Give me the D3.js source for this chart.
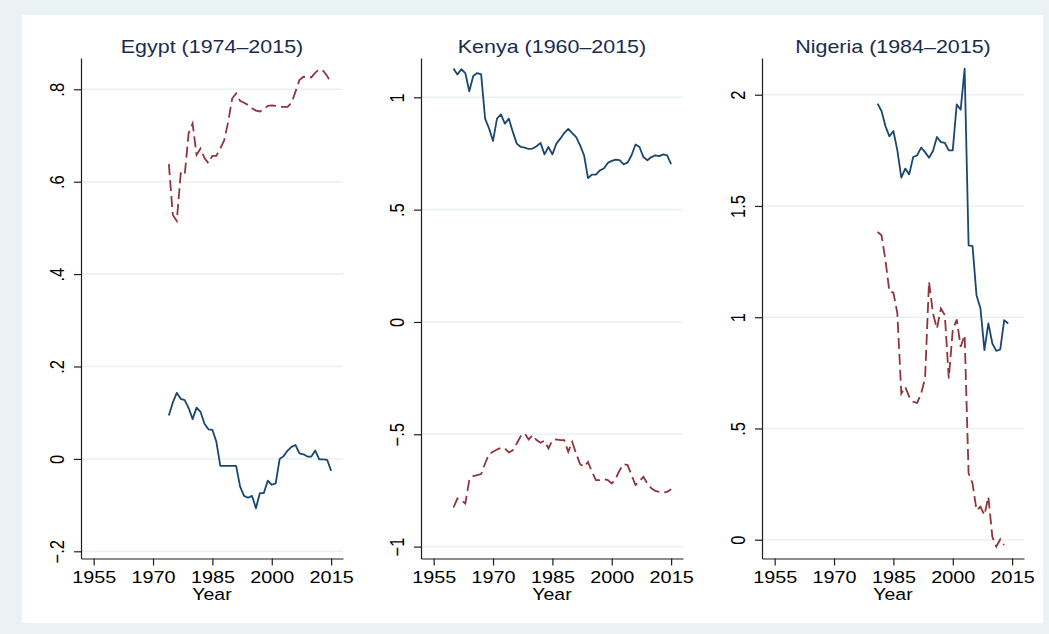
<!DOCTYPE html>
<html>
<head>
<meta charset="utf-8">
<script src="https://cdn.jsdelivr.net/npm/d3@7"></script>
<style>
  body { margin: 0; background: #fff; }
  svg { display: block; font-family: "Liberation Sans", Arial, sans-serif; }
</style>
</head>
<body>
<svg width="1049" height="634"></svg>
<script>
(function (d3) {
  'use strict';

  // ---- data ----
  var titles = ['Egypt (1974\u20132015)', 'Kenya (1960\u20132015)', 'Nigeria (1984\u20132015)'];
  var xTicks = [1955, 1970, 1985, 2000, 2015];

  var egyptStart = 1974;
  var egyptSolid = [0.094, 0.122, 0.143, 0.130, 0.127, 0.110, 0.086, 0.111, 0.102, 0.076,
    0.064, 0.063, 0.037, -0.015, -0.015, -0.015, -0.015, -0.015, -0.060, -0.080,
    -0.084, -0.080, -0.107, -0.074, -0.074, -0.047, -0.056, -0.053, 0.000, 0.006,
    0.018, 0.026, 0.030, 0.012, 0.010, 0.005, 0.005, 0.018, -0.001, -0.001,
    -0.002, -0.026];
  var egyptDashed = [0.638, 0.528, 0.515, 0.618, 0.614, 0.705, 0.726, 0.658, 0.672, 0.651,
    0.640, 0.656, 0.656, 0.672, 0.690, 0.730, 0.780, 0.791, 0.775, 0.771,
    0.766, 0.759, 0.754, 0.752, 0.757, 0.764, 0.765, 0.764, 0.762, 0.762,
    0.762, 0.771, 0.795, 0.820, 0.827, 0.826, 0.826, 0.836, 0.843, 0.840,
    0.829, 0.813];
  var egyptTicks = [-0.2, 0, 0.2, 0.4, 0.6, 0.8];
  var egyptLabels = ['\u2212.2', '0', '.2', '.4', '.6', '.8'];

  var kenyaStart = 1960;
  var kenyaSolid = [1.128, 1.102, 1.125, 1.108, 1.027, 1.095, 1.108, 1.102, 0.905, 0.861,
    0.806, 0.905, 0.924, 0.883, 0.905, 0.846, 0.794, 0.779, 0.776, 0.770,
    0.772, 0.782, 0.797, 0.746, 0.779, 0.746, 0.794, 0.816, 0.841, 0.859,
    0.841, 0.823, 0.786, 0.742, 0.640, 0.656, 0.656, 0.675, 0.683, 0.708,
    0.717, 0.723, 0.720, 0.702, 0.709, 0.742, 0.790, 0.779, 0.734, 0.720,
    0.734, 0.742, 0.738, 0.746, 0.742, 0.702];
  var kenyaDashed = [-0.826, -0.786, -0.793, -0.808, -0.704, -0.686, -0.682, -0.677, -0.630, -0.588,
    -0.578, -0.568, -0.560, -0.563, -0.581, -0.571, -0.541, -0.508, -0.496, -0.523,
    -0.504, -0.526, -0.538, -0.529, -0.563, -0.526, -0.523, -0.526, -0.526, -0.578,
    -0.534, -0.586, -0.633, -0.645, -0.623, -0.667, -0.704, -0.704, -0.700, -0.704,
    -0.719, -0.697, -0.660, -0.633, -0.637, -0.682, -0.726, -0.709, -0.689, -0.719,
    -0.741, -0.752, -0.756, -0.759, -0.756, -0.745];
  var kenyaTicks = [-1, -0.5, 0, 0.5, 1];
  var kenyaLabels = ['\u22121', '\u2212.5', '0', '.5', '1'];

  var nigeriaStart = 1981;
  var nigeriaSolid = [1.960, 1.927, 1.858, 1.813, 1.837, 1.750, 1.627, 1.668, 1.642, 1.720,
    1.727, 1.762, 1.742, 1.717, 1.747, 1.810, 1.787, 1.783, 1.750, 1.750,
    1.956, 1.933, 2.117, 1.323, 1.319, 1.099, 1.039, 0.852, 0.972, 0.882,
    0.849, 0.855, 0.987, 0.972];
  var nigeriaDashed = [1.383, 1.368, 1.256, 1.114, 1.111, 1.017, 0.657, 0.687, 0.642, 0.620,
    0.615, 0.657, 0.725, 1.160, 1.017, 0.949, 1.039, 1.009, 0.725, 0.942,
    0.990, 0.867, 0.919, 0.298, 0.253, 0.133, 0.148, 0.111, 0.193, 0.013,
    -0.031, 0.002, -0.024];
  var nigeriaTicks = [0, 0.5, 1, 1.5, 2];
  var nigeriaLabels = ['0', '.5', '1', '1.5', '2'];

  var panels = [
    { title: titles[0], start: egyptStart, solid: egyptSolid, dashed: egyptDashed,
      yDomain: [-0.2156, 0.8677], ticks: egyptTicks, labels: egyptLabels, left: 81 },
    { title: titles[1], start: kenyaStart, solid: kenyaSolid, dashed: kenyaDashed,
      yDomain: [-1.053, 1.175], ticks: kenyaTicks, labels: kenyaLabels, left: 421 },
    { title: titles[2], start: nigeriaStart, solid: nigeriaSolid, dashed: nigeriaDashed,
      yDomain: [-0.0844, 2.165], ticks: nigeriaTicks, labels: nigeriaLabels, left: 762 }
  ];

  // ---- layout ----
  var svg = d3.select('svg');
  var plotW = 262;
  var top = 58;
  var bottom = 558.5;
  var navy = '#1a476f';
  var maroon = '#90353b';
  var axisColor = '#1e1e1e';
  var stretch = 1.2;

  svg.append('rect').attr('x', 0).attr('y', 0).attr('width', 1049).attr('height', 634).attr('fill', '#eaf2f3');
  svg.append('rect').attr('x', 22).attr('y', 15).attr('width', 1021).attr('height', 608).attr('fill', '#fff');

  panels.forEach(function (p) {
    var x = d3.scaleLinear().domain([1951.8, 2018]).range([p.left, p.left + plotW]);
    var y = d3.scaleLinear().domain(p.yDomain).range([bottom, top]);
    var g = svg.append('g');

    // grid
    g.append('g').selectAll('line')
      .data(p.ticks)
      .enter()
      .append('line')
      .attr('x1', p.left)
      .attr('x2', p.left + plotW)
      .attr('y1', function (d) { return y(d); })
      .attr('y2', function (d) { return y(d); })
      .attr('stroke', '#eaf2f3')
      .attr('stroke-width', 1.6);

    // lines
    var line = d3.line()
      .x(function (d, i) { return x(p.start + i); })
      .y(function (d) { return y(d); });

    g.append('path')
      .attr('d', line(p.solid))
      .attr('fill', 'none')
      .attr('stroke', navy)
      .attr('stroke-width', 1.8)
      .attr('stroke-linejoin', 'round');

    g.append('path')
      .attr('d', line(p.dashed))
      .attr('fill', 'none')
      .attr('stroke', maroon)
      .attr('stroke-width', 1.8)
      .attr('stroke-dasharray', '11,5');

    // x axis
    var xAxis = g.append('g')
      .attr('transform', 'translate(0,' + bottom + ')')
      .call(d3.axisBottom(x).tickValues(xTicks).tickSize(7).tickSizeOuter(0).tickFormat(d3.format('d')));
    xAxis.select('.domain').attr('stroke', axisColor).attr('stroke-width', 1.2);
    xAxis.selectAll('.tick line').attr('stroke', axisColor).attr('stroke-width', 1.2);
    xAxis.selectAll('.tick text')
      .attr('y', 24.5)
      .attr('dy', null)
      .attr('fill', '#000')
      .attr('font-size', 16.5)
      .attr('font-family', '"Liberation Sans", Arial, sans-serif')
      .attr('transform', 'scale(' + stretch + ',1)');

    // y axis
    var yAxis = g.append('g')
      .attr('transform', 'translate(' + p.left + ',0)')
      .call(d3.axisLeft(y).tickValues(p.ticks).tickSize(7).tickSizeOuter(0)
        .tickFormat(function (d, i) { return p.labels[i]; }));
    yAxis.select('.domain').attr('stroke', axisColor).attr('stroke-width', 1.2);
    yAxis.selectAll('.tick line').attr('stroke', axisColor).attr('stroke-width', 1.2);
    yAxis.selectAll('.tick text')
      .attr('x', null)
      .attr('dy', null)
      .attr('text-anchor', 'middle')
      .attr('fill', '#000')
      .attr('font-size', 16.5)
      .attr('font-family', '"Liberation Sans", Arial, sans-serif')
      .attr('transform', 'translate(-17.5,0) scale(' + stretch + ',1) rotate(-90)');

    // title
    g.append('text')
      .attr('transform', 'translate(' + (p.left + plotW / 2) + ',52.5) scale(1.16,1)')
      .attr('text-anchor', 'middle')
      .attr('font-size', 18.5)
      .attr('fill', '#1a2b4c')
      .text(p.title);

    // x title
    g.append('text')
      .attr('transform', 'translate(' + (p.left + plotW / 2) + ',599.5) scale(1.18,1)')
      .attr('text-anchor', 'middle')
      .attr('font-size', 16.5)
      .attr('fill', '#000')
      .text('Year');
  });

}(d3));
</script>
</body>
</html>
